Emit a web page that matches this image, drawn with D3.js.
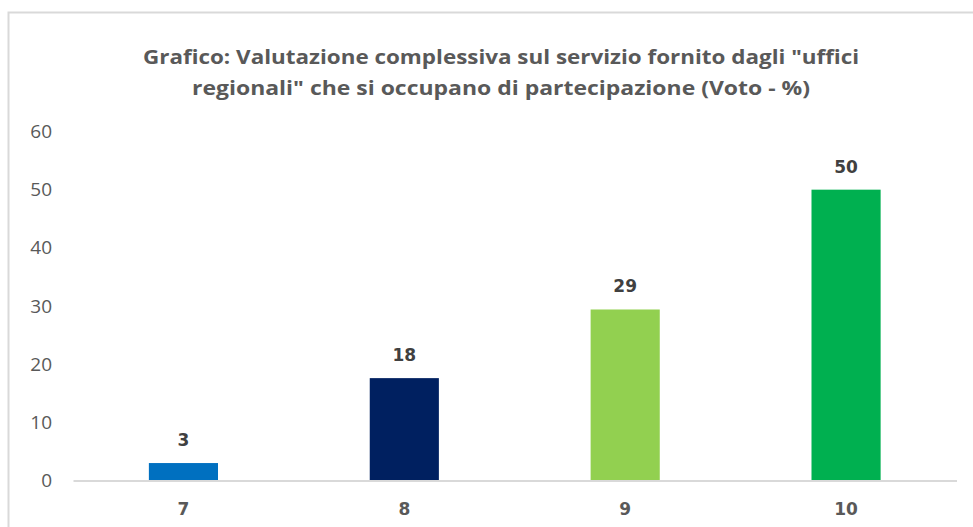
<!DOCTYPE html>
<html><head><meta charset="utf-8">
<script src="https://cdn.jsdelivr.net/npm/d3@7"></script>
<style>body{margin:0;background:#fff}</style>
</head><body>
<svg id="c" width="973" height="527"></svg>
<script>
const categories = ["7", "8", "9", "10"];
const values = [3.0, 17.6, 29.4, 50.0];
const valueLabels = ["3", "18", "29", "50"];
const colors = ["#0070C0", "#002060", "#92D050", "#00B050"];
const yTicks = [0, 10, 20, 30, 40, 50, 60];
const titleLines = ["Grafico: Valutazione complessiva sul servizio fornito dagli \"uffici", "regionali\" che si occupano di partecipazione (Voto - %)"];

const svg = d3.select("#c");
// frame
svg.append("path").attr("d", "M8.5,527 V12.5 H973").attr("fill", "none").attr("stroke", "#d9d9d9").attr("stroke-width", 2);

const x = d3.scaleBand().domain(categories).range([73, 956.5]).paddingInner(0.687).paddingOuter(0.3435);
const y = d3.scaleLinear().domain([0, 60]).range([480.5, 131.5]);

// title
const tg = svg.append("g");
const tw = [716, 618];
titleLines.forEach((t, i) => {
  tg.append("text").attr("x", 501).attr("y", 64 + i * 31).attr("text-anchor", "middle")
    .attr("font-family", "Open Sans, sans-serif").attr("font-weight", "bold")
    .attr("font-size", 19.5).attr("fill", "#595959").attr("textLength", tw[i]).attr("lengthAdjust", "spacingAndGlyphs").text(t);
});

// y axis
const ya = svg.append("g").attr("transform", "translate(52,0)")
  .call(d3.axisLeft(y).tickValues(yTicks).tickSize(0).tickPadding(0));
ya.select(".domain").remove();
ya.selectAll("text").attr("font-family", "Open Sans, sans-serif").attr("font-size", 19).attr("fill", "#595959");

// bars
svg.append("g").selectAll("rect").data(values).join("rect")
  .attr("x", (d, i) => x(categories[i])).attr("width", x.bandwidth())
  .attr("y", d => y(d)).attr("height", d => y(0) - y(d))
  .attr("fill", (d, i) => colors[i]);

// x axis
const xa = svg.append("g").attr("transform", `translate(0,${y(0)})`)
  .call(d3.axisBottom(x).tickSize(0).tickPadding(22));
xa.select(".domain").attr("stroke", "#d9d9d9").attr("stroke-width", 2);
xa.selectAll("text").attr("font-family", "DejaVu Sans, sans-serif").attr("font-weight", "bold").attr("font-size", 17).attr("fill", "#595959");

// value labels
svg.append("g").selectAll("text").data(values).join("text")
  .attr("x", (d, i) => x(categories[i]) + x.bandwidth() / 2)
  .attr("y", d => y(d) - 17).attr("text-anchor", "middle")
  .attr("font-family", "DejaVu Sans, sans-serif").attr("font-weight", "bold").attr("font-size", 17).attr("fill", "#404040")
  .text((d, i) => valueLabels[i]);
</script>
</body></html>
